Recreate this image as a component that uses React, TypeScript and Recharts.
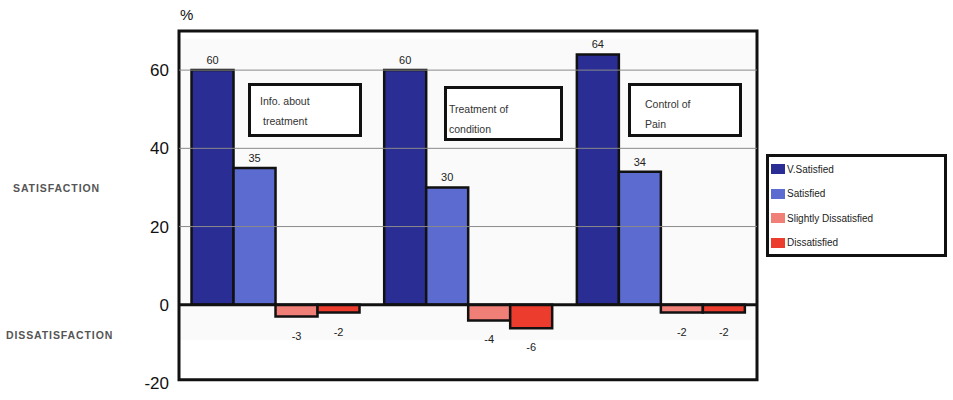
import React from 'react';
import { BarChart, Bar, XAxis, YAxis, ReferenceLine, ReferenceArea, LabelList } from 'recharts';

const categories = ['Info. about treatment', 'Treatment of condition', 'Control of Pain'];
const vSatisfied = [60, 60, 64];
const satisfied = [35, 30, 34];
const slightlyDissatisfied = [-3, -4, -2];
const dissatisfied = [-2, -6, -2];
const yTicks = [-20, 0, 20, 40, 60];
const gridLines = [20, 40, 60];

const series = [
    { key: 'vSatisfied', name: 'V.Satisfied', color: '#2a2e94' },
    { key: 'satisfied', name: 'Satisfied', color: '#5b6bcf' },
    { key: 'slightly', name: 'Slightly Dissatisfied', color: '#f07f78' },
    { key: 'dissatisfied', name: 'Dissatisfied', color: '#ec3c2e' },
];

const data = categories.map((name, i) => ({
    name,
    vSatisfied: vSatisfied[i],
    satisfied: satisfied[i],
    slightly: slightlyDissatisfied[i],
    dissatisfied: dissatisfied[i],
}));

const FONT = '"Liberation Sans", Arial, sans-serif';

// value above positive bars, below negative ones
const ValueLabel = (props: any) => {
    const { x, y, width, height, value } = props;
    const top = Math.min(y, y + height);
    const bottom = Math.max(y, y + height);
    const cx = x + width / 2;
    const ty = value >= 0 ? top - 6 : bottom + 23;
    return (
        <text x={cx} y={ty} textAnchor="middle" fontSize={11} fontFamily={FONT} fill="#222">
            {value}
        </text>
    );
};

// legend drawn beside the plot, outside recharts so it takes no layout space
const LegendBox = () => (
    <div style={{
        position: 'absolute', left: 766, top: 154,
        border: '3px solid #111', width: 181, height: 103, boxSizing: 'border-box',
        background: '#fff', padding: '0 0 0 2px', fontFamily: FONT, fontSize: 10, color: '#222'
    }}>
        {series.map(s => (
            <div key={s.key} style={{ display: 'flex', alignItems: 'center', height: 24.5 }}>
                <span style={{ width: 14, height: 10, background: s.color, marginRight: 2, display: 'inline-block' }} />
                {s.name}
            </div>
        ))}
    </div>
);

const boxStyle: React.CSSProperties = {
    position: 'absolute', border: '3px solid #111', boxSizing: 'border-box',
    fontFamily: FONT, fontSize: 10.5, color: '#333', lineHeight: '20px', background: '#fff'
};

const sideLabel: React.CSSProperties = {
    position: 'absolute', fontFamily: FONT, fontSize: 10.5, letterSpacing: 0.9,
    color: '#555', fontWeight: 'bold'
};

export default function App() {
    return (
        <div style={{ position: 'absolute', left: 0, top: 0, width: 953, height: 400, background: '#fff' }}>
            <BarChart
                width={953}
                height={400}
                data={data}
                margin={{ top: 31, right: 196, bottom: 17, left: 119 }}
                barCategoryGap="6.5%"
                barGap={0}
            >
                <XAxis dataKey="name" hide />
                <YAxis
                    width={60}
                    domain={[-20, 70]}
                    ticks={yTicks}
                    allowDataOverflow
                    axisLine={false}
                    tickLine={false}
                    tickMargin={4}
                    tick={{ fill: '#111', fontSize: 17, fontFamily: FONT }}
                />
                <ReferenceArea y1={-9} y2={68} fill="#fafafa" fillOpacity={1} stroke="none" />
                {gridLines.map(v => (
                    <ReferenceLine key={v} y={v} stroke="#8a8a8a" strokeWidth={1} />
                ))}
                {series.map(s => (
                    <Bar key={s.key} dataKey={s.key} name={s.name} fill={s.color}
                        stroke="#111" strokeWidth={2.5} isAnimationActive={false}>
                        <LabelList dataKey={s.key} content={ValueLabel} />
                    </Bar>
                ))}
                <ReferenceLine y={0} stroke="#111" strokeWidth={3} />
                <ReferenceArea y1={-19.2} y2={70} fill="none" stroke="#111" strokeWidth={3} ifOverflow="visible" />
            </BarChart>

            <LegendBox />

            <div style={{ position: 'absolute', left: 180, top: 6, fontFamily: FONT, fontSize: 15, color: '#111' }}>%</div>
            <div style={{ ...sideLabel, left: 13, top: 182 }}>SATISFACTION</div>
            <div style={{ ...sideLabel, left: 6, top: 329 }}>DISSATISFACTION</div>

            <div style={{ ...boxStyle, left: 248, top: 83, width: 114, height: 54, padding: '5px 0 0 9px' }}>
                Info. about<br /><span style={{ marginLeft: 3 }}>treatment</span>
            </div>
            <div style={{ ...boxStyle, left: 444, top: 86, width: 119, height: 55, padding: '10px 0 0 2px' }}>
                Treatment of<br />condition
            </div>
            <div style={{ ...boxStyle, left: 628, top: 83, width: 114, height: 54, padding: '8px 0 0 14px' }}>
                Control of<br />Pain
            </div>
        </div>
    );
}
